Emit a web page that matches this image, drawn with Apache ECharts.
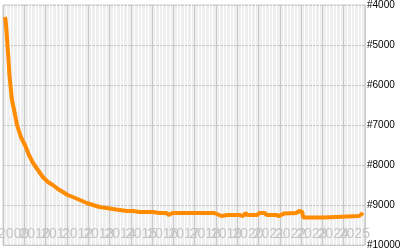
<!DOCTYPE html>
<html>
<head>
<meta charset="utf-8">
<script src="https://cdn.jsdelivr.net/npm/echarts@6/dist/echarts.min.js"></script>
<style>html,body{margin:0;padding:0;background:#fff}#c{width:400px;height:250px}</style>
</head>
<body>
<div id="c"></div>
<script>
// Year labels along the bottom
const yearLabels = ['2009','2010','2011','2012','2013','2014','2015','2016','2017','2018','2019','2020','2021','2022','2023','2024','2025'];
// Time of each reading (fractional year)
const times = [2009.09,2009.12,2009.16,2009.21,2009.26,2009.30,2009.35,2009.42,2009.52,2009.66,2009.84,
  2010.03,2010.22,2010.41,2010.64,2010.87,2011.11,2011.34,2011.58,2011.81,2012.04,2012.28,2012.61,2012.93,
  2013.22,2013.54,2013.87,2014.15,2014.48,2014.81,2015.09,2015.42,2015.74,2016.03,2016.35,2016.68,2016.78,2016.85,
  2016.96,2017.52,2018.23,2018.93,2019.26,2019.54,2020.10,2020.29,2020.38,2020.48,2020.94,2021.04,2021.13,
  2021.27,2021.41,2021.83,2021.97,2022.21,2022.77,2022.91,2023.05,2023.10,2024.08,2024.13,2025.72,2025.91];
// Rank at each reading
const ranks = [4300,4375,4625,5000,5375,5750,6000,6375,6625,7000,7300,
  7500,7750,7950,8125,8300,8425,8500,8600,8675,8750,8800,8875,8950,
  9000,9050,9075,9100,9125,9150,9150,9175,9175,9175,9200,9200,9250,9225,
  9200,9200,9200,9200,9275,9250,9250,9275,9200,9250,9250,9200,9250,
  9200,9250,9250,9275,9210,9200,9150,9175,9310,9310,9275,9275,9200];
// Rank axis
const rankMin = 4000, rankMax = 10000, rankStep = 1000;

const chart = echarts.init(document.getElementById('c'), null, {renderer:'canvas'});
chart.setOption({
  animation: false,
  grid: {left: 3, right: 35, top: 5, bottom: 5, outerBoundsMode: 'none', containLabel: false,
    show: true, backgroundColor: '#efefef', borderColor: '#c8c8c8', borderWidth: 1},
  xAxis: [{
    type: 'value', min: 2009, max: 2026, interval: 1, position: 'bottom',
    axisLine: {show: false}, axisTick: {show: false}, axisLabel: {show: false},
    splitLine: {show: true, lineStyle: {color: '#c8c8c8', width: 1}},
    minorTick: {show: false, splitNumber: 6},
    minorSplitLine: {show: true, lineStyle: {color: '#ffffff', width: 1}}
  }, {
    type: 'category', data: yearLabels, boundaryGap: true, position: 'bottom',
    axisLine: {show: false}, axisTick: {show: false}, splitLine: {show: false},
    axisLabel: {show: true, inside: true, interval: 0, margin: 4, color: '#c4c4c4',
      fontFamily: 'Liberation Sans Narrow, Liberation Sans, sans-serif', fontSize: 14}
  }],
  yAxis: {
    type: 'value', inverse: true, min: rankMin, max: rankMax, interval: rankStep, position: 'right',
    axisLine: {show: false}, axisTick: {show: false},
    splitLine: {show: true, lineStyle: {color: '#c8c8c8', width: 1}},
    axisLabel: {margin: 2, color: '#000', fontFamily: 'Liberation Sans, sans-serif', fontSize: 10,
      formatter: v => '#' + v}
  },
  series: [{
    type: 'line', xAxisIndex: 0, showSymbol: false, symbol: 'none',
    data: times.map((t, i) => [t, ranks[i]]),
    lineStyle: {color: '#ff8c00', width: 4}, clip: true
  }]
});
</script>
</body>
</html>
